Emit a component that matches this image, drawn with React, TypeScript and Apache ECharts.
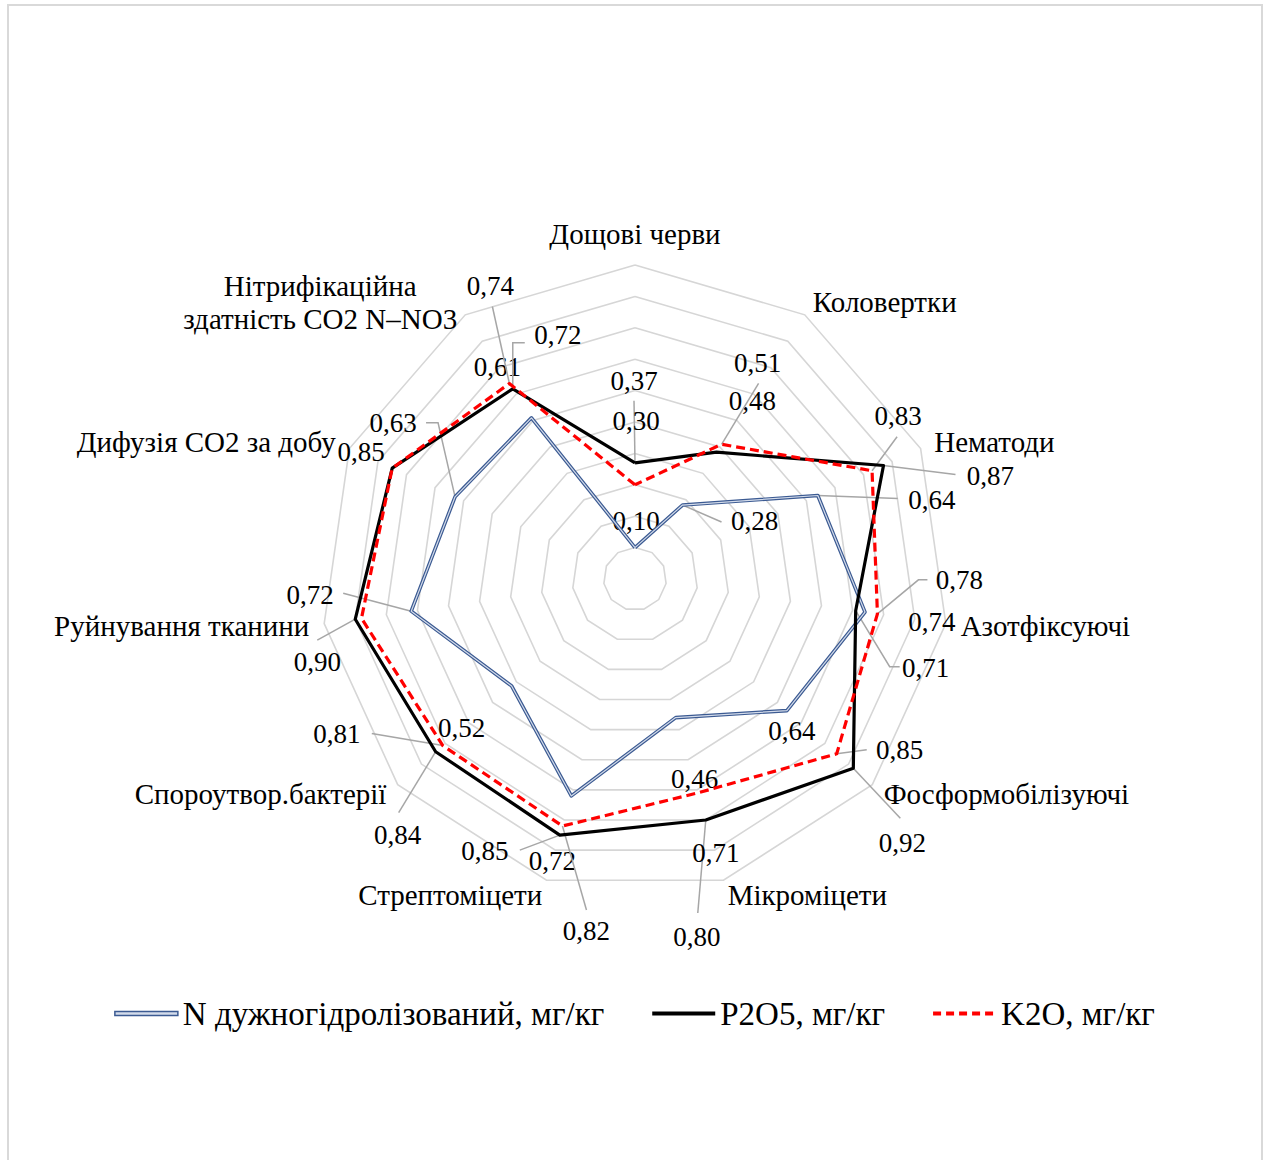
import React, { useEffect, useRef } from 'react';
import * as echarts from 'echarts';

// ---------- data ----------
const categories = [
  'Дощові черви',
  'Коловертки',
  'Нематоди',
  'Азотфіксуючі',
  'Фосформобілізуючі',
  'Мікроміцети',
  'Стрептоміцети',
  'Спороутвор.бактерії',
  'Руйнування тканини',
  'Дифузія CO2 за добу',
  'Нітрифікаційна\nздатність CO2 N–NO3',
];

const seriesNames = ['N дужногідролізований, мг/кг', 'P2O5, мг/кг', 'K2O, мг/кг'];

const nValues = [0.10, 0.28, 0.64, 0.74, 0.64, 0.46, 0.72, 0.52, 0.72, 0.63, 0.61];
const pValues = [0.37, 0.48, 0.87, 0.71, 0.92, 0.80, 0.85, 0.84, 0.90, 0.85, 0.72];
const kValues = [0.30, 0.51, 0.83, 0.78, 0.85, 0.71, 0.82, 0.81, 0.88, 0.85, 0.74];

const axisMax = 1;
const splitCount = 10;

// ---------- layout (label offsets relative to the data point) ----------
type LabelPos = { d: [number, number]; lead?: [number, number][] } | null;

const nLabelLayout: LabelPos[] = [
  { d: [1, -27] },
  { d: [72, 16], lead: [[39, 17]] },
  { d: [114, 4], lead: [[80, 3]] },
  { d: [67, 10] },
  { d: [5, 20] },
  { d: [19, 61] },
  { d: [-19, 65] },
  { d: [-50, 42] },
  { d: [-101, -16], lead: [[-68, -18]] },
  { d: [-62, -74], lead: [[-17, -74], [-29, -74]] },
  { d: [-34, -51] },
];
const pLabelLayout: LabelPos[] = [
  { d: [-1, -82], lead: [[-1, -62]] },
  { d: [36, -51] },
  { d: [107, 10], lead: [[72, 9]] },
  { d: [70, 57], lead: [[34, 56], [44, 56]] },
  { d: [49, 75], lead: [[47, 50]] },
  { d: [-9, 117], lead: [[-8, 93]] },
  { d: [-75, 16], lead: [[-40, 15]] },
  { d: [-38, 83], lead: [[-37, 61]] },
  { d: [-38, 43], lead: [[-38, 21]] },
  { d: [-31, -16] },
  { d: [45, -54], lead: [[0, -46], [12, -46]] },
];
const kLabelLayout: LabelPos[] = [
  { d: [1, -64] },
  { d: [36, -81], lead: [[37, -61]] },
  { d: [26, -55], lead: [[25, -34]] },
  { d: [82, -34], lead: [[41, -34], [50, -34]] },
  { d: [63, -4], lead: [[30, -4]] },
  { d: [18, 60] },
  { d: [24, 105], lead: [[24, 84]] },
  { d: [-106, -12], lead: [[-71, -12]] },
  null,
  null,
  { d: [-19, -98], lead: [[-17, -77]] },
];

const CX = 635;
const CY = 579;
const RADIUS = 314;
const FONT = 'Liberation Serif, Times New Roman, serif';

export default function App() {
  const ref = useRef<HTMLDivElement>(null);

  useEffect(() => {
    if (!ref.current) return;
    const chart = echarts.init(ref.current, undefined, { renderer: 'svg' });

    const n = categories.length;
    // ECharts radar goes counter-clockwise; reorder to get clockwise placement
    const order = [0, ...Array.from({ length: n - 1 }, (_, i) => n - 1 - i)];
    const reorder = (arr: number[]) => order.map((i) => arr[i]);

    const point = (v: number, i: number): [number, number] => {
      const a = (i * 2 * Math.PI) / n;
      const r = (v / axisMax) * RADIUS;
      return [CX + r * Math.sin(a), CY - r * Math.cos(a)];
    };
    const fmt = (v: number) => v.toFixed(2).replace('.', ',');

    const graphics: any[] = [
      {
        type: 'rect',
        shape: { x: 8, y: 5, width: 1254, height: 1170 },
        style: { fill: 'none', stroke: '#d9d9d9', lineWidth: 2 },
        silent: true,
      },
    ];
    const addLabels = (vals: number[], layout: LabelPos[]) => {
      vals.forEach((v, i) => {
        const l = layout[i];
        if (!l) return;
        const [px, py] = point(v, i);
        if (l.lead) {
          graphics.push({
            type: 'polyline',
            silent: true,
            z: 1,
            shape: { points: [[px, py], ...l.lead.map(([dx, dy]) => [px + dx, py + dy])] },
            style: { stroke: '#a6a6a6', lineWidth: 1.5, fill: 'none' },
          });
        }
        graphics.push({
          type: 'text',
          silent: true,
          z: 1,
          x: px + l.d[0],
          y: py + l.d[1],
          style: {
            text: fmt(v),
            fill: '#000',
            fontSize: 27,
            fontFamily: FONT,
            align: 'center',
            verticalAlign: 'middle',
          },
        });
      });
    };
    addLabels(nValues, nLabelLayout);
    addLabels(pValues, pLabelLayout);
    addLabels(kValues, kLabelLayout);

    const dashIcon =
      'path://M0,0h8v4h-8zM13,0h8v4h-8zM26,0h8v4h-8zM39,0h8v4h-8zM52,0h8v4h-8zM63,0h0v4h0z';

    chart.setOption({
      animation: false,
      backgroundColor: '#fff',
      graphic: { elements: graphics },
      legend: {
        data: [
          { name: seriesNames[0], icon: 'rect', itemStyle: { color: '#d3dbea', borderColor: '#3b5a92', borderWidth: 1.5 } },
          { name: seriesNames[1], icon: 'rect', itemStyle: { color: '#000' } },
          { name: seriesNames[2], icon: dashIcon, itemStyle: { color: '#ff0000' } },
        ],
        left: 'center',
        top: 992,
        itemWidth: 63,
        itemHeight: 4,
        itemGap: 48,
        symbolKeepAspect: false,
        selectedMode: false,
        textStyle: { color: '#000', fontSize: 33, fontFamily: FONT },
      },
      radar: {
        center: [CX, CY],
        radius: RADIUS,
        startAngle: 90,
        splitNumber: splitCount,
        shape: 'polygon',
        axisNameGap: 15,
        indicator: order.map((i) => ({ name: categories[i], min: 0, max: axisMax })),
        axisLine: { show: false },
        axisTick: { show: false },
        axisLabel: { show: false },
        splitArea: { show: false },
        splitLine: { lineStyle: { color: '#d6d6d6', width: 1.6 } },
        axisName: {
          color: '#000',
          fontSize: 29,
          fontFamily: FONT,
          formatter: (name: string) =>
            name
              .split('\n')
              .map((s) => `{n|${s}}`)
              .join('\n'),
          rich: {
            n: {
              color: '#000',
              fontSize: 29,
              fontFamily: FONT,
              lineHeight: 33,
              align: 'center',
            },
          },
        },
      },
      series: [
        {
          type: 'radar',
          name: 'N',
          symbol: 'none',
          silent: true,
          lineStyle: { color: '#3b5a92', width: 3.6 },
          data: [{ name: seriesNames[0], value: reorder(nValues) }],
        },
        {
          type: 'radar',
          name: 'N inner',
          symbol: 'none',
          silent: true,
          lineStyle: { color: '#d3dbea', width: 1.2 },
          data: [{ name: 'N inner', value: reorder(nValues) }],
        },
        {
          type: 'radar',
          name: 'P',
          symbol: 'none',
          silent: true,
          lineStyle: { color: '#000', width: 3.2 },
          data: [{ name: seriesNames[1], value: reorder(pValues) }],
        },
        {
          type: 'radar',
          name: 'K',
          symbol: 'none',
          silent: true,
          lineStyle: { color: '#ff0000', width: 3.2, type: [9, 5] },
          data: [{ name: seriesNames[2], value: reorder(kValues) }],
        },
      ],
    });

    return () => chart.dispose();
  }, []);

  return (
    <div
      ref={ref}
      style={{ position: 'fixed', left: 0, top: 0, width: 1269, height: 1160, background: '#fff' }}
    />
  );
}
